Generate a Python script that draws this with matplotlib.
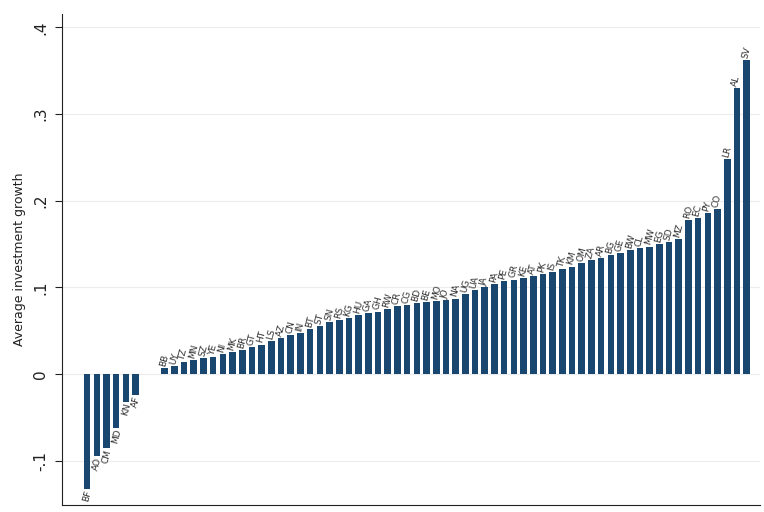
import numpy as np
import matplotlib
matplotlib.use("Agg")
import matplotlib.pyplot as plt

# average investment growth by country, sorted
neg_codes = ["BF", "AO", "CM", "MD", "KN", "AF"]
neg_vals = [-0.133, -0.095, -0.085, -0.062, -0.032, -0.024]

pos_codes = ["BB", "UY", "TZ", "MN", "SZ", "YE", "NI", "MK", "BR", "GT",
             "HT", "LS", "AZ", "CN", "IN", "BT", "ST", "SN", "RS", "KG",
             "HU", "GA", "GH", "RW", "CR", "CG", "BD", "BE", "MO", "JO",
             "NA", "UG", "UA", "JA", "PA", "PE", "GR", "KE", "AT", "PK",
             "IS", "TK", "KM", "OM", "ZA", "AR", "BG", "GE", "BW", "CL",
             "MW", "EG", "SD", "MZ", "RO", "EC", "PY", "CO", "LR", "AL",
             "SV"]
pos_vals = [0.007, 0.009, 0.014, 0.016, 0.018, 0.020, 0.023, 0.025, 0.028, 0.031,
            0.034, 0.038, 0.041, 0.045, 0.047, 0.052, 0.055, 0.060, 0.062, 0.065,
            0.068, 0.070, 0.072, 0.075, 0.078, 0.080, 0.082, 0.083, 0.084, 0.085,
            0.087, 0.092, 0.097, 0.100, 0.104, 0.107, 0.109, 0.111, 0.113, 0.115,
            0.118, 0.121, 0.124, 0.128, 0.131, 0.134, 0.137, 0.140, 0.143, 0.145,
            0.147, 0.150, 0.152, 0.156, 0.178, 0.180, 0.186, 0.190, 0.248, 0.330,
            0.362]

yticks = [-0.1, 0, 0.1, 0.2, 0.3, 0.4]
ytick_labels = ["-.1", "0", ".1", ".2", ".3", ".4"]

codes = neg_codes + pos_codes
vals = np.array(neg_vals + pos_vals)
# two empty slots between the negative and positive groups
xpos = np.arange(len(vals)) + 2 * (vals >= 0)

navy = "#1a476f"
fig = plt.figure(figsize=(7.64, 5.12), dpi=100)
ax = fig.add_axes([0.081, 0.014, 0.914, 0.958])

for y in yticks:
    ax.axhline(y, color="#ececec", lw=0.8, zorder=0)

ax.bar(xpos, vals, width=0.68, color=navy, zorder=2)

for x, v, c in zip(xpos, vals, codes):
    if v >= 0:
        ax.text(x - 0.2, v + 0.002, c, rotation=75, rotation_mode="anchor",
                ha="left", va="center", fontsize=6.5, color="#333333", zorder=3)
    else:
        ax.text(x + 0.2, v - 0.002, c, rotation=75, rotation_mode="anchor",
                ha="right", va="center", fontsize=6.5, color="#333333", zorder=3)

ax.set_xlim(-2.6, 69.4)
ax.set_ylim(-0.151, 0.415)
ax.set_yticks(yticks)
ax.set_yticklabels(ytick_labels, rotation=90, va="center", fontsize=11, color="#222222")
ax.set_xticks([])
ax.tick_params(axis="y", length=5, width=0.8, color="#222222", pad=5)
ax.set_ylabel("Average investment growth", fontsize=9, color="#222222", labelpad=5)

ax.spines["top"].set_visible(False)
ax.spines["right"].set_visible(False)
ax.spines["left"].set_color("#222222")
ax.spines["bottom"].set_color("#222222")

fig.savefig("out.png", dpi=100)
